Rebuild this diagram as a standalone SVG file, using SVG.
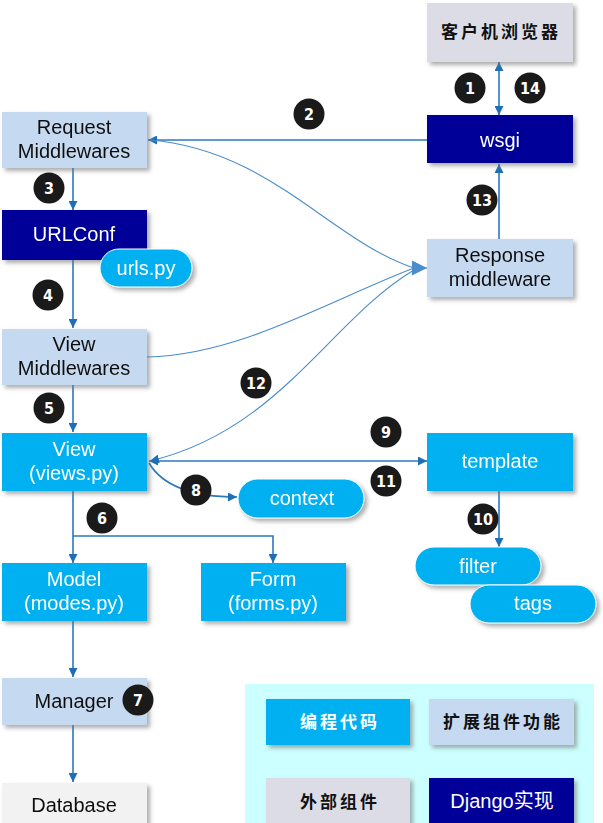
<svg xmlns="http://www.w3.org/2000/svg" width="603" height="823" viewBox="0 0 603 823">
<style>
.lb{fill:#c5d9f1}
.nv{fill:#000099}
.cy{fill:#00b0f0}
.gr{fill:#dcdce6}
.box{filter:url(#sh)}
.t{font-family:"Liberation Sans",Arial,sans-serif;font-size:20px;text-anchor:middle}
.w{fill:#ffffff}
.k{fill:#111111}
.cj{font-family:"Noto Sans CJK SC",sans-serif;font-size:17px;font-weight:bold;text-anchor:middle;letter-spacing:3px}
.num circle{fill:#1a1a1a}
.num text{font-family:"DejaVu Sans Condensed","DejaVu Sans",sans-serif;font-weight:bold;font-size:16px;fill:#fff;text-anchor:middle;font-stretch:condensed}
.ln{fill:none;stroke:#2a78c0;stroke-width:1.6}
.cv{fill:none;stroke:#4a8ccc;stroke-width:1.1}
</style>
<defs>
<filter id="sh" x="-10%" y="-10%" width="130%" height="140%">
<feDropShadow dx="3" dy="3" stdDeviation="2" flood-color="#777" flood-opacity="0.6"/>
</filter>
<marker id="ah" viewBox="0 0 10 10" refX="10" refY="5" markerWidth="9" markerHeight="9" markerUnits="userSpaceOnUse" orient="auto-start-reverse">
<path d="M0,0 L10,5 L0,10 z" fill="#1f6fb8"/>
</marker>
<marker id="big" viewBox="0 0 10 10" refX="10" refY="5" markerWidth="15" markerHeight="17" markerUnits="userSpaceOnUse" orient="auto">
<path d="M0,0 L10,5 L0,10 z" fill="#4a8ccc"/>
</marker>
</defs>

<g id="legend-bg"><rect x="245" y="684" width="349" height="139" fill="#ccffff"/></g>

<g id="connectors">
<path class="ln" d="M499,62 V115" marker-start="url(#ah)" marker-end="url(#ah)"/>
<path class="ln" d="M427,140 H148" marker-end="url(#ah)"/>
<path class="ln" d="M499,239 V164" marker-end="url(#ah)"/>
<path class="ln" d="M73,168 V210" marker-end="url(#ah)"/>
<path class="ln" d="M73,260 V328" marker-end="url(#ah)"/>
<path class="ln" d="M73,385 V432" marker-end="url(#ah)"/>
<path class="ln" d="M149,461 H427" marker-start="url(#ah)" marker-end="url(#ah)"/>
<path class="ln" d="M499,491 V547" marker-end="url(#ah)"/>
<path class="ln" d="M73,491 V563" marker-end="url(#ah)"/>
<path class="ln" d="M73,536 H273 V563" marker-end="url(#ah)"/>
<path class="ln" d="M73,621 V677" marker-end="url(#ah)"/>
<path class="ln" d="M73,725 V782" marker-end="url(#ah)"/>
<path class="cv" d="M150,140 C270,150 330,240 414,268"/>
<path class="cv" d="M147,357 C240,355 330,300 414,268"/>
<path class="cv" d="M414,268 L427,268" marker-end="url(#big)"/>
<path class="cv" d="M414,270 C330,320 280,430 150,461" marker-end="url(#ah)"/>
<path class="ln" d="M149,463 C165,490 200,497 237,497" marker-end="url(#ah)"/>
</g>

<g id="browser" class="box"><rect class="gr" x="427" y="3" width="146" height="59"/></g>
<text class="cj k" x="501" y="38">客户机浏览器</text>
<g id="wsgi" class="box"><rect class="nv" x="427" y="115" width="146" height="48"/><text class="t w" x="500" y="147">wsgi</text></g>
<g id="request-mw" class="box"><rect class="lb" x="2" y="112" width="145" height="56"/><text class="t k" x="74" y="134">Request</text><text class="t k" x="74" y="158">Middlewares</text></g>
<g id="urlconf" class="box"><rect class="nv" x="2" y="210" width="145" height="50"/><text class="t w" x="74" y="241">URLConf</text></g>
<g id="urls" class="box"><rect class="cy" x="100" y="249" width="92" height="38" rx="19" stroke="#ffffff" stroke-width="1"/><text class="t w" x="146" y="275">urls.py</text></g>
<g id="view-mw" class="box"><rect class="lb" x="2" y="329" width="145" height="56"/><text class="t k" x="74" y="351">View</text><text class="t k" x="74" y="375">Middlewares</text></g>
<g id="response-mw" class="box"><rect class="lb" x="427" y="239" width="146" height="58"/><text class="t k" x="500" y="262">Response</text><text class="t k" x="500" y="286">middleware</text></g>
<g id="view" class="box"><rect class="cy" x="2" y="433" width="145" height="58"/><text class="t w" x="74" y="456">View</text><text class="t w" x="74" y="480">(views.py)</text></g>
<g id="template" class="box"><rect class="cy" x="427" y="433" width="146" height="58"/><text class="t w" x="500" y="468">template</text></g>
<g id="context" class="box"><rect class="cy" x="238" y="479" width="126" height="39" rx="19.5" stroke="#ffffff" stroke-width="1"/><text class="t w" x="302" y="505">context</text></g>
<g id="filter" class="box"><rect class="cy" x="415" y="547" width="126" height="38" rx="19" stroke="#ffffff" stroke-width="1"/><text class="t w" x="478" y="573">filter</text></g>
<g id="tags" class="box"><rect class="cy" x="470" y="585" width="126" height="38" rx="19" stroke="#ffffff" stroke-width="1"/><text class="t w" x="533" y="610">tags</text></g>
<g id="model" class="box"><rect class="cy" x="2" y="563" width="145" height="58"/><text class="t w" x="74" y="586">Model</text><text class="t w" x="74" y="610">(modes.py)</text></g>
<g id="form" class="box"><rect class="cy" x="201" y="563" width="145" height="58"/><text class="t w" x="273" y="586">Form</text><text class="t w" x="273" y="610">(forms.py)</text></g>
<g id="manager" class="box"><rect class="lb" x="2" y="678" width="145" height="47"/><text class="t k" x="74" y="708">Manager</text></g>
<g id="database" class="box"><rect fill="#f2f2f2" x="2" y="783" width="145" height="45"/><text class="t k" x="74" y="812">Database</text></g>

<g id="legend-code" class="box"><rect class="cy" x="266" y="699" width="144" height="46"/></g>
<text class="cj w" x="340" y="728">编程代码</text>
<g id="legend-ext" class="box"><rect class="lb" x="429" y="699" width="145" height="46"/></g>
<text class="cj k" x="503" y="728">扩展组件功能</text>
<g id="legend-outer" class="box"><rect class="gr" x="266" y="778" width="144" height="50"/></g>
<text class="cj k" x="340" y="808">外部组件</text>
<g id="legend-django" class="box"><rect class="nv" x="429" y="778" width="145" height="50"/></g>
<text class="t w" x="502" y="808" style="font-family:'Liberation Sans','Noto Sans CJK SC',sans-serif">Django实现</text>

<g class="num" id="n1"><circle cx="470" cy="88" r="15.5"/><text x="470" y="94">1</text></g>
<g class="num" id="n14"><circle cx="530" cy="88" r="15.5"/><text x="530" y="94">14</text></g>
<g class="num" id="n2"><circle cx="309" cy="114" r="15.5"/><text x="309" y="120">2</text></g>
<g class="num" id="n13"><circle cx="482" cy="200" r="15.5"/><text x="482" y="206">13</text></g>
<g class="num" id="n3"><circle cx="49" cy="188" r="15.5"/><text x="49" y="194">3</text></g>
<g class="num" id="n4"><circle cx="48" cy="295" r="15.5"/><text x="48" y="301">4</text></g>
<g class="num" id="n12"><circle cx="256" cy="383" r="15.5"/><text x="256" y="389">12</text></g>
<g class="num" id="n5"><circle cx="49" cy="408" r="15.5"/><text x="49" y="414">5</text></g>
<g class="num" id="n9"><circle cx="386" cy="432" r="15.5"/><text x="386" y="438">9</text></g>
<g class="num" id="n11"><circle cx="386" cy="481" r="15.5"/><text x="386" y="487">11</text></g>
<g class="num" id="n8"><circle cx="196" cy="490" r="15.5"/><text x="196" y="496">8</text></g>
<g class="num" id="n10"><circle cx="483" cy="519" r="15.5"/><text x="483" y="525">10</text></g>
<g class="num" id="n6"><circle cx="102" cy="518" r="15.5"/><text x="102" y="524">6</text></g>
<g class="num" id="n7"><circle cx="138" cy="700" r="15.5"/><text x="138" y="706">7</text></g>
</svg>
